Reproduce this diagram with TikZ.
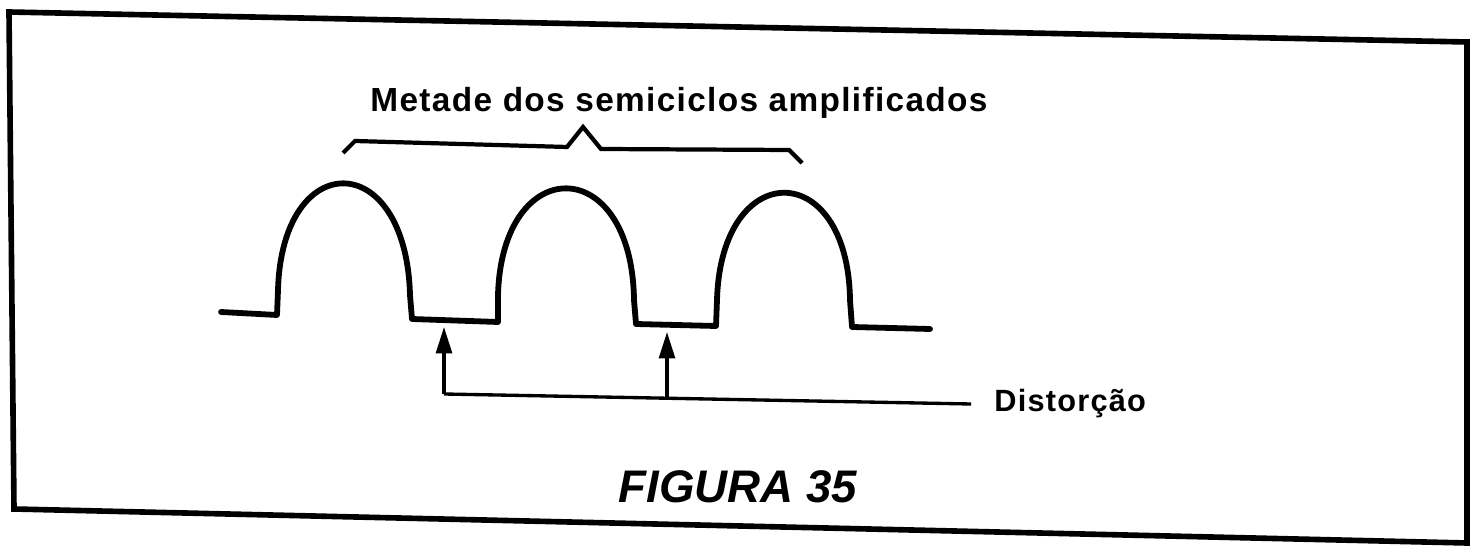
\documentclass[tikz,border=0pt]{standalone}
\usepackage{fontspec}
\setmainfont{Liberation Sans}
\newfontfamily\labelfont{Liberation Sans}[LetterSpace=4.0]
\usepackage{tikz}
\usetikzlibrary{arrows.meta, positioning}

\tikzset{
    frameline/.style={line width=3.2pt, line join=miter},
    waveline/.style={line width=3.3pt, line join=round, line cap=round},
    braceline/.style={line width=2.4pt, line join=miter},
    pointer/.style={line width=1.9pt, -{Triangle[length=15pt, width=9pt]}},
    leadline/.style={line width=1.9pt},
    labeltext/.style={inner sep=0pt, font=\labelfont\bfseries\fontsize{17.5}{21}\selectfont}
}

\begin{document}
\begin{tikzpicture}[x=0.02cm, y=-0.02cm]
    \useasboundingbox (0,0) rectangle (1473,546);

    % Frame
    \draw[frameline] (9,12) -- (1467,42) -- (1467,543) -- (14,509) -- cycle;

    % Title and brace
    \node[labeltext, font=\labelfont\bfseries\fontsize{19}{23}\selectfont, anchor=base] (title) at (679,112) {Metade dos semiciclos amplificados};
    \draw[braceline] (343,153) -- (355,141) -- (567,147) -- (583,127) -- (601,149) -- (789,150) -- (802,163);

    % Half-wave signal
    \draw[waveline] (221,312) -- (277,315) -- (278,290)
        .. controls (282,147) and (406,147) .. (410,295) -- (412,319) -- (498,322) -- (498,295)
        .. controls (502,152) and (632,152) .. (634,300) -- (636,324) -- (716,326) -- (717,300)
        .. controls (721,157) and (848,157) .. (850,300) -- (852,327) -- (930,329);

    % Distortion pointers
    \coordinate (foot1) at (444,394);
    \coordinate (tip1) at (444,327);
    \coordinate (foot2) at (667,398);
    \coordinate (tip2) at (667,332);
    \coordinate (lineend) at (971,404);
    \draw[leadline] (foot1) -- (lineend);
    \draw[pointer] (foot1) -- (tip1);
    \draw[pointer] (foot2) -- (tip2);
    \node[labeltext, right=0.46cm of lineend] (distorcao) {Distorção};

    % Caption
    \node[inner sep=0pt, anchor=base, font=\bfseries\itshape\fontsize{26}{30}\selectfont] (caption) at (738,503) {FIGURA 35};
\end{tikzpicture}
\end{document}
